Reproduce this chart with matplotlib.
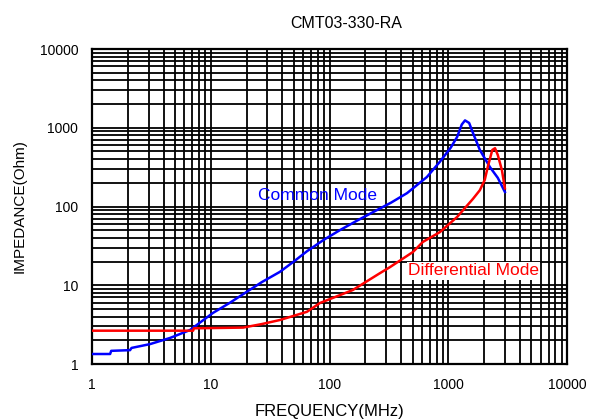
import matplotlib
matplotlib.use("Agg")
import matplotlib.pyplot as plt
from matplotlib.ticker import LogLocator, NullFormatter, FixedLocator

plt.rcParams['font.family'] = ['Liberation Sans', 'DejaVu Sans']

# datos
cm_freq = [1, 1.42, 1.45, 2.09, 2.15, 3.08, 4.53, 6.68, 10.4, 14.5, 20.2, 27, 38.2, 50, 64.5, 90,
           122, 170, 233, 330, 450, 661, 850, 1050, 1187, 1300, 1384, 1500, 1614, 1845, 2240, 2615, 3000]
cm_imp = [1.34, 1.34, 1.47, 1.5, 1.6, 1.79, 2.14, 2.7, 4.44, 6.0, 8.3, 11, 14.8, 20, 27, 38,
          50, 66, 85, 112, 148, 237, 370, 560, 763, 1100, 1240, 1150, 860, 523, 318, 231, 153]

dm_freq = [1, 7.1, 7.2, 18.7, 27, 38.2, 64.5, 83, 157, 267, 323, 505, 611, 852, 1187, 1614, 1845,
           2030, 2150, 2350, 2476, 2615, 2830, 3000]
dm_imp = [2.65, 2.65, 2.84, 2.9, 3.22, 3.62, 4.6, 5.95, 8.7, 14.3, 17, 26.5, 35.5, 47.4, 73.6, 125, 161,
          218, 317, 523, 550, 450, 290, 170]

xticks = [1, 10, 100, 1000, 10000]
yticks = [1, 10, 100, 1000, 10000]

fig = plt.figure(figsize=(5.9, 4.2), dpi=100)
ax = fig.add_axes([0.156, 0.1333, 0.805, 0.75])

ax.plot(cm_freq, cm_imp, color='blue', lw=1.8, zorder=3)
ax.plot(dm_freq, dm_imp, color='red', lw=1.8, zorder=3)

ax.set_xscale('log')
ax.set_yscale('log')
ax.set_xlim(1, 10000)
ax.set_ylim(1, 10000)
ax.xaxis.set_major_locator(FixedLocator(xticks))
ax.yaxis.set_major_locator(FixedLocator(yticks))
ax.set_xticklabels([str(v) for v in xticks])
ax.set_yticklabels([str(v) for v in yticks])
ax.xaxis.set_minor_locator(LogLocator(base=10, subs=range(2, 10), numticks=20))
ax.yaxis.set_minor_locator(LogLocator(base=10, subs=range(2, 10), numticks=20))
ax.xaxis.set_minor_formatter(NullFormatter())
ax.yaxis.set_minor_formatter(NullFormatter())
ax.tick_params(which='both', length=0, labelsize=10, pad=10)

ax.grid(which='major', color='black', lw=1.3)
ax.grid(which='minor', color='black', lw=1.3)
for s in ax.spines.values():
    s.set_linewidth(1.6)

ax.text(25, 136, 'Common Mode', color='blue', fontsize=12.5, va='center')
ax.text(458, 15.2, 'Differential Mode', color='red', fontsize=12.5, va='center',
        bbox=dict(facecolor='white', edgecolor='none', pad=1))

ax.set_title('CMT03-330-RA', fontsize=11.5, pad=15, x=0.535)
ax.set_xlabel('FREQUENCY(MHz)', fontsize=12, labelpad=9)
ax.set_ylabel('IMPEDANCE(Ohm)', fontsize=11, labelpad=9)

fig.savefig('out.png', dpi=100)
